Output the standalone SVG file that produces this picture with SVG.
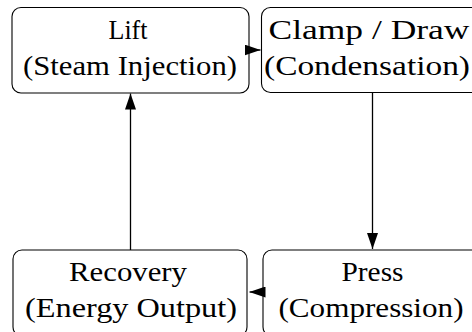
<svg xmlns="http://www.w3.org/2000/svg" width="472" height="332" viewBox="0 0 472 332">
<defs>
<style>
.box{fill:#fff;stroke:#000;stroke-width:1.1}
.lbl{font-family:"Liberation Serif","DejaVu Serif",serif;font-size:27px;fill:#000;text-anchor:middle}
.edge{stroke:#000;stroke-width:1.3;fill:none}
</style>
<marker id="ah" markerUnits="userSpaceOnUse" markerWidth="16" markerHeight="11" refX="16" refY="5.5" orient="auto">
<path d="M0,0 L16,5.5 L0,11 z" fill="#000"/>
</marker>
</defs>
<rect width="472" height="332" fill="#fff"/>
<g id="lift">
<rect class="box" x="12" y="7.5" width="237" height="85.5" rx="9"/>
<text class="lbl" x="128" y="39" textLength="39" lengthAdjust="spacingAndGlyphs">Lift</text>
<text class="lbl" x="130" y="75" textLength="214" lengthAdjust="spacingAndGlyphs">(Steam Injection)</text>
</g>
<g id="clamp">
<rect class="box" x="261.5" y="7.5" width="222" height="85" rx="9"/>
<text class="lbl" x="369" y="39" textLength="201" lengthAdjust="spacingAndGlyphs">Clamp / Draw</text>
<text class="lbl" x="367" y="75" textLength="206" lengthAdjust="spacingAndGlyphs">(Condensation)</text>
</g>
<g id="recovery">
<rect class="box" x="13" y="250" width="234" height="86" rx="9"/>
<text class="lbl" x="128" y="281" textLength="118" lengthAdjust="spacingAndGlyphs">Recovery</text>
<text class="lbl" x="131" y="317" textLength="212" lengthAdjust="spacingAndGlyphs">(Energy Output)</text>
</g>
<g id="press">
<rect class="box" x="263" y="250" width="222" height="86" rx="9"/>
<text class="lbl" x="372.5" y="281" textLength="62" lengthAdjust="spacingAndGlyphs">Press</text>
<text class="lbl" x="371" y="317" textLength="185" lengthAdjust="spacingAndGlyphs">(Compression)</text>
</g>
<g id="connectors">
<line class="edge" x1="249" y1="50" x2="260.5" y2="50" marker-end="url(#ah)"/>
<line class="edge" x1="372.5" y1="92.5" x2="372.5" y2="249" marker-end="url(#ah)"/>
<line class="edge" x1="263" y1="292" x2="249.5" y2="292" marker-end="url(#ah)"/>
<line class="edge" x1="130.5" y1="250" x2="130.5" y2="93.5" marker-end="url(#ah)"/>
</g>
</svg>
